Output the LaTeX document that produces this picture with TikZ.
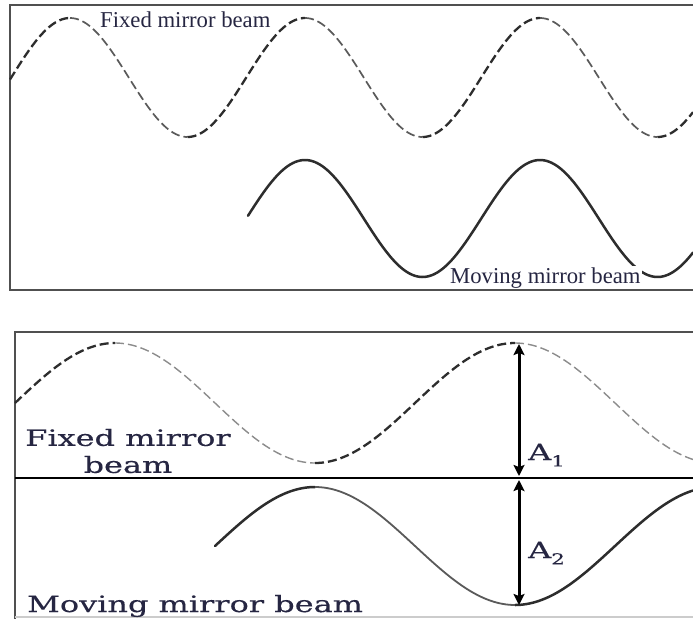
\documentclass[tikz,border=0pt]{standalone}
\usepackage{fontspec}
\setmainfont{Liberation Serif}
\newfontfamily\botfont[FakeStretch=1.42,FakeBold=0.35]{DejaVu Serif}
\usetikzlibrary{arrows.meta}
\definecolor{txt}{RGB}{38,38,66}
\definecolor{frame}{RGB}{80,80,80}
\definecolor{wdark}{RGB}{45,45,45}
\definecolor{wmid}{RGB}{90,90,90}
\definecolor{wlight}{RGB}{140,140,140}
\tikzset{
  panelline/.style={draw=frame, line width=2pt},
  midline/.style={draw=black, line width=2.5pt},
  dashrise/.style={draw=wdark, line width=2.3pt, dash pattern=on 9pt off 4pt},
  dashfalltop/.style={draw=wmid, line width=1.7pt, dash pattern=on 9pt off 4pt},
  dashfallbot/.style={draw=wlight, line width=1.4pt, dash pattern=on 9pt off 4pt},
  solidwave/.style={draw=wdark, line width=2.5pt},
  solidthin/.style={draw=wmid, line width=1.8pt},
  toplabel/.style={font=\fontsize{22.7}{27}\selectfont, text=txt, inner sep=1pt},
  botlabel/.style={font=\botfont\fontsize{22.5}{27}\selectfont, text=txt, inner sep=0pt},
  dimarrow/.style={draw=black, line width=3pt, {Stealth[length=11pt,width=11pt,inset=2pt]}-{Stealth[length=11pt,width=11pt,inset=2pt]}},
  declare function={
    fa(\x)=77.5-59.5*cos((\x-70)/235*360);
    fb(\x)=218.5-58.5*cos((\x-70)/235*360);
    fc(\x)=403-60*cos((\x-115)*0.9);
    fd(\x)=546+59*cos((\x-115)*0.9);
  }
}
\begin{document}
\begin{tikzpicture}[x=1pt,y=-1pt]
\useasboundingbox (0,0) rectangle (693,619);
\fill[white] (0,0) rectangle (693,619);

% ---------- top panel ----------
\draw[panelline] (693,5) -- (10,5) -- (10,290) -- (693,290);
% fixed mirror beam (dashed)
\draw[dashrise] plot[domain=10:70,samples=30,smooth] (\x,{fa(\x)});
\draw[dashfalltop] plot[domain=70:187.5,samples=50,smooth] (\x,{fa(\x)});
\draw[dashrise] plot[domain=187.5:305,samples=50,smooth] (\x,{fa(\x)});
\draw[dashfalltop] plot[domain=305:422.5,samples=50,smooth] (\x,{fa(\x)});
\draw[dashrise] plot[domain=422.5:540,samples=50,smooth] (\x,{fa(\x)});
\draw[dashfalltop] plot[domain=540:657.5,samples=50,smooth] (\x,{fa(\x)});
\draw[dashrise] plot[domain=657.5:693,samples=20,smooth] (\x,{fa(\x)});
% moving mirror beam (solid)
\draw[solidwave, line cap=round] plot[domain=248:693,samples=180,smooth] (\x,{fb(\x)});
\node[toplabel, anchor=base west] (fixtop) at (99,27) {Fixed mirror beam};
\node[toplabel, anchor=base west, fill=white] (movtop) at (449,283) {Moving mirror beam};

% ---------- bottom panel ----------
\draw[panelline] (693,332) -- (15,332) -- (15,619);
\draw[draw=black!20, line width=1.5pt] (15,617) -- (693,617);
% fixed mirror beam (dashed)
\draw[dashrise] plot[domain=15:115,samples=40,smooth] (\x,{fc(\x)});
\draw[dashfallbot] plot[domain=115:315,samples=70,smooth] (\x,{fc(\x)});
\draw[dashrise] plot[domain=315:515,samples=70,smooth] (\x,{fc(\x)});
\draw[dashfallbot] plot[domain=515:693,samples=60,smooth] (\x,{fc(\x)});
% moving mirror beam (solid)
\draw[solidwave, line cap=round] plot[domain=215:315,samples=40,smooth] (\x,{fd(\x)});
\draw[solidthin] plot[domain=315:515,samples=70,smooth] (\x,{fd(\x)});
\draw[solidwave] plot[domain=515:693,samples=60,smooth] (\x,{fd(\x)});
% centre line
\draw[midline] (15,478) -- (693,478);
% amplitude arrows
\coordinate (pk) at (519,344);
\coordinate (m1) at (519,476);
\coordinate (m2) at (519,480);
\coordinate (tr) at (519,605);
\draw[dimarrow] (pk) -- (m1);
\draw[dimarrow] (m2) -- (tr);
\node[botlabel, anchor=base west] (a1) at (528,460) {A\raisebox{-0.28em}{\fontsize{15}{15}\selectfont 1}};
\node[botlabel, anchor=base west] (a2) at (528,558) {A\raisebox{-0.28em}{\fontsize{15}{15}\selectfont 2}};
\node[botlabel, align=center, anchor=center] (fixbot) at (128,451) {Fixed mirror\\beam};
\node[botlabel, anchor=base west] (movbot) at (27,612) {Moving mirror beam};
\end{tikzpicture}
\end{document}
